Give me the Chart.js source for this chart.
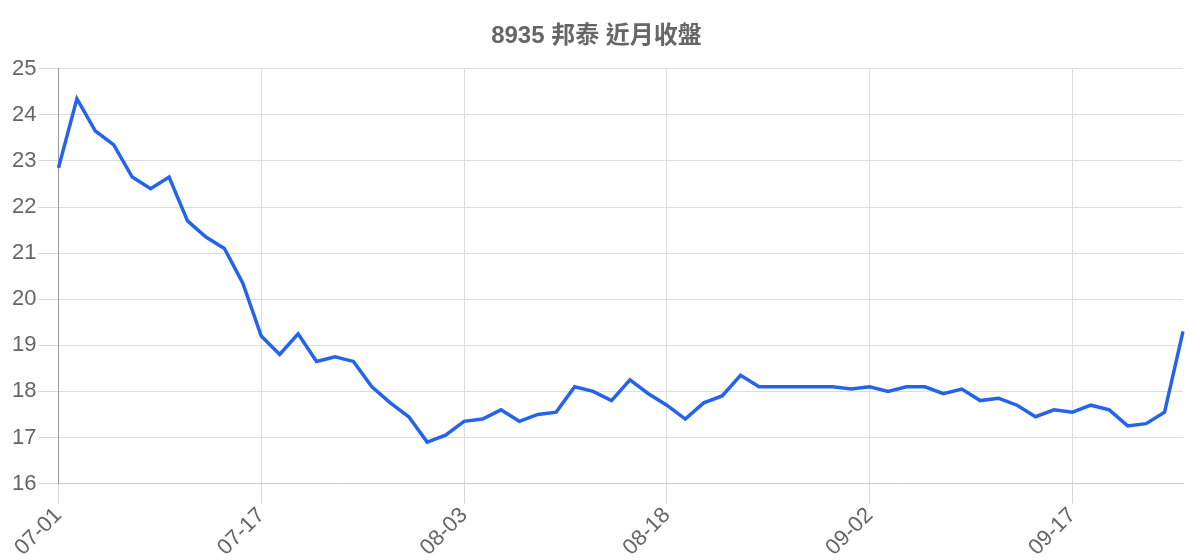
<!DOCTYPE html>
<html>
<head>
    <meta charset="utf-8" />
    <title>8935 邦泰 近月收盤</title>
    <script src="https://cdn.jsdelivr.net/npm/chart.js"></script>
    <style>
        html, body { margin: 0; padding: 0; background: #fff; }
        #wrap { width: 1200px; height: 560px; }
    </style>
</head>
<body>
<div id="wrap"><canvas id="chartClose" width="1200" height="560"></canvas></div>

<script>
// trading dates (MM-DD) and closing price
const dates = [
    '07-01','07-02','07-03','07-07','07-08','07-09','07-10','07-13','07-14','07-15','07-16','07-17',
    '07-20','07-21','07-22','07-23','07-24','07-27','07-28','07-29','07-30','07-31','08-03',
    '08-04','08-05','08-06','08-07','08-10','08-11','08-12','08-13','08-14','08-17','08-18',
    '08-19','08-20','08-21','08-24','08-25','08-26','08-27','08-28','08-31','09-01','09-02',
    '09-03','09-04','09-07','09-08','09-09','09-10','09-11','09-14','09-15','09-16','09-17',
    '09-18','09-21','09-22','09-23','09-24','09-25'
];
const closePrice = [
    22.85, 24.35, 23.65, 23.35, 22.65, 22.4, 22.65, 21.7, 21.35, 21.1, 20.35, 19.2,
    18.8, 19.25, 18.65, 18.75, 18.65, 18.1, 17.75, 17.45, 16.9, 17.05, 17.35,
    17.4, 17.6, 17.35, 17.5, 17.55, 18.1, 18.0, 17.8, 18.25, 17.95, 17.7,
    17.4, 17.75, 17.9, 18.35, 18.1, 18.1, 18.1, 18.1, 18.1, 18.05, 18.1,
    18.0, 18.1, 18.1, 17.95, 18.05, 17.8, 17.85, 17.7, 17.45, 17.6, 17.55,
    17.7, 17.6, 17.25, 17.3, 17.55, 19.3
];
const yMin = 16, yMax = 25, yStep = 1;
const labelEvery = 11;

const fontFamily = '"Liberation Sans", Arial, "Noto Sans CJK TC", sans-serif';

const ctx = document.getElementById('chartClose').getContext('2d');
new Chart(ctx, {
    type: 'line',
    data: {
        labels: dates,
        datasets: [{
            label: '收盤',
            data: closePrice,
            borderColor: '#2563eb',
            borderWidth: 3.5,
            pointRadius: 0,
            tension: 0,
            fill: false
        }]
    },
    options: {
        responsive: false,
        animation: false,
        layout: { padding: { left: 10, right: 17, top: 10, bottom: 0 } },
        plugins: {
            legend: { display: false },
            tooltip: { enabled: false },
            title: {
                display: true,
                text: '8935 邦泰 近月收盤',
                color: '#666',
                font: { family: fontFamily, size: 24, weight: 'bold' },
                padding: { top: 12, bottom: 18 }
            }
        },
        scales: {
            x: {
                grid: { color: '#dcdcdc', tickColor: '#d6d6d6', tickLength: 20, lineWidth: 1 },
                border: { color: '#cccccc' },
                ticks: {
                    autoSkip: false,
                    maxRotation: 45,
                    minRotation: 45,
                    padding: -1,
                    color: '#666',
                    font: { family: fontFamily, size: 22 },
                    callback: function(val, idx) {
                        return idx % labelEvery === 0 ? this.getLabelForValue(val) : null;
                    }
                }
            },
            y: {
                min: yMin,
                max: yMax,
                grid: { color: '#dcdcdc', tickColor: '#d6d6d6', tickLength: 20 },
                border: { color: '#999' },
                ticks: {
                    stepSize: yStep,
                    padding: 2,
                    color: '#666',
                    font: { family: fontFamily, size: 22 }
                }
            }
        }
    }
});
</script>
</body>
</html>
